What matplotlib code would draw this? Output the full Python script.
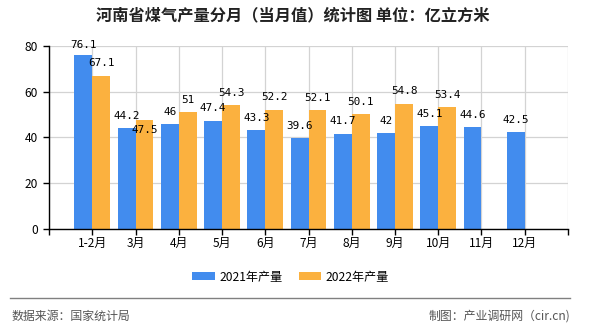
import matplotlib
matplotlib.use("Agg")
import matplotlib.pyplot as plt
from matplotlib.lines import Line2D
import numpy as np

plt.rcParams['font.family'] = ['Noto Sans CJK SC', 'DejaVu Sans']

months = ["1-2月", "3月", "4月", "5月", "6月", "7月", "8月", "9月", "10月", "11月", "12月"]
prod_2021 = [76.1, 44.2, 46, 47.4, 43.3, 39.6, 41.7, 42, 45.1, 44.6, 42.5]
prod_2022 = [67.1, 47.5, 51, 54.3, 52.2, 52.1, 50.1, 54.8, 53.4]
yticks = [0, 20, 40, 60, 80]

blue = "#428CEE"
orange = "#FBB13F"

fig = plt.figure(figsize=(5.9, 3.3), dpi=100)
ax = fig.add_axes([0.0831, 0.3061, 0.8796, 0.5545])

x = np.arange(1, len(months) + 1)
w = 0.415
b1 = ax.bar(x - w / 2, prod_2021, w, color=blue, label="2021年产量", zorder=3)
b2 = ax.bar(x[:len(prod_2022)] + w / 2, prod_2022, w, color=orange, label="2022年产量", zorder=3)

lab_font = dict(family=['DejaVu Sans Mono', 'Noto Sans CJK SC'], fontsize=7.9, color="black")
for bars, vals in ((b1, prod_2021), (b2, prod_2022)):
    for r, v in zip(bars, vals):
        txt = f"{v:g}"
        dy = 8.8
        if bars is b2 and txt == "47.5":
            dy = -7.2   # pushed below the bar top in the original to avoid overlap
        elif txt == "76.1":
            dy = 7.0
        ax.annotate(txt, (r.get_x() + r.get_width() / 2, v), xytext=(0, dy),
                    textcoords="offset points", ha="center", va="center",
                    zorder=5, **lab_font)

ax.set_xlim(0, 12)
ax.set_ylim(0, 80)
ax.set_xticks(np.arange(0, 13))
ax.set_xticklabels([""] + months + [""])
ax.set_yticks(yticks)
ax.tick_params(axis="x", length=4, width=1, pad=2, labelsize=8.6)
ax.tick_params(axis="y", length=4, width=1, pad=4, labelsize=8.6)

ax.grid(True, color="#d3d3d3", linewidth=0.9, zorder=0)
ax.set_axisbelow(True)
for s in ("top", "right"):
    ax.spines[s].set_visible(False)
for s in ("left", "bottom"):
    ax.spines[s].set_linewidth(1.0)
    ax.spines[s].set_color("black")
    ax.spines[s].set_zorder(4)

fig.text(0.4966, 0.9545, "河南省煤气产量分月（当月值）统计图 单位：亿立方米",
         ha="center", va="center", fontsize=11.7, fontweight="bold", color="#222222")

fig.legend(handles=[b1, b2], loc="center", bbox_to_anchor=(0.4924, 0.1606), ncol=2,
           frameon=False, fontsize=8.7, handlelength=1.85, handleheight=0.65,
           handletextpad=0.35, columnspacing=1.35)

fig.add_artist(Line2D([10 / 590, 570 / 590], [1 - 298 / 330] * 2, transform=fig.transFigure,
                      color="#808080", linewidth=1.0))
fig.text(12 / 590, 1 - 316 / 330, "数据来源：国家统计局", ha="left", va="center",
         fontsize=8.6, color="#555555")
fig.text(570 / 590, 1 - 316 / 330, "制图：产业调研网（cir.cn)", ha="right", va="center",
         fontsize=8.6, color="#555555")

fig.savefig("out.png", dpi=100)
